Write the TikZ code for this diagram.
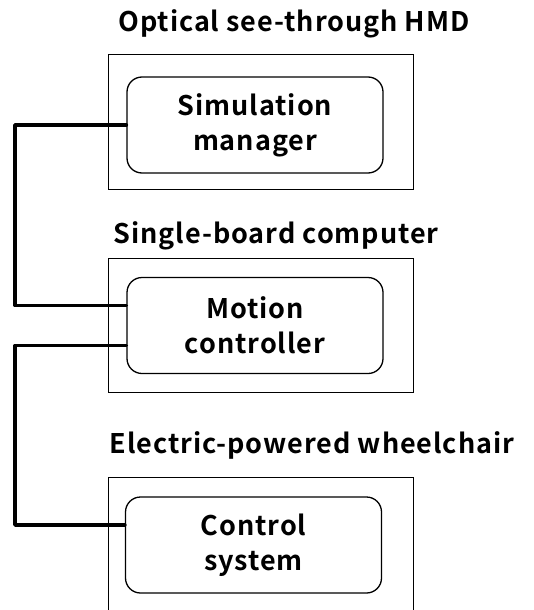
\documentclass[tikz,border=0pt]{standalone}
\usepackage{fontspec}
\setmainfont{Noto Sans CJK JP}[BoldFont={* Bold}, LetterSpace=3.5]
\begin{document}
\begin{tikzpicture}[x=1pt,y=-1pt,
  every node/.style={font=\bfseries\fontsize{27}{35}\selectfont, inner sep=0pt},
  outerbox/.style={draw, line width=1pt, minimum width=305pt, minimum height=134pt},
  innerbox/.style={draw, line width=1.3pt, rounded corners=15pt, minimum width=256pt,
                   minimum height=96pt, align=center},
  heading/.style={anchor=base},
  wire/.style={line width=3.5pt, line cap=round, line join=round}]
\useasboundingbox (0,0) rectangle (534,610);
\begin{scope}
\clip (0,0) rectangle (534,610);
% containers
\node[outerbox] (hmd) at (260.5,122) {};
\node[outerbox] (sbc) at (260.5,325) {};
\node[outerbox, minimum height=160pt] (chair) at (260.5,557) {};
% containers' titles
\node[heading] (hmdt) at (294,31.5) {Optical see-through HMD};
\node[heading] (sbct) at (276,243) {Single-board computer};
\node[heading] (chairt) at (312,453) {Electric-powered wheelchair};
% modules
\node[innerbox] (sim) at (255,125) {Simulation\\manager};
\node[innerbox] (motion) at (255,325.5) {Motion\\controller};
\node[innerbox] (ctrl) at (253.5,545) {Control\\system};
% links
\coordinate (railx) at (15,0);
\draw[wire] (sim.west) -- (sim.west -| railx) |- ([yshift=20pt]motion.west);
\draw[wire] ([yshift=-20pt]motion.west) -- ([yshift=-20pt]motion.west -| railx)
  |- ([yshift=20pt]ctrl.west);
\end{scope}
\end{tikzpicture}
\end{document}
